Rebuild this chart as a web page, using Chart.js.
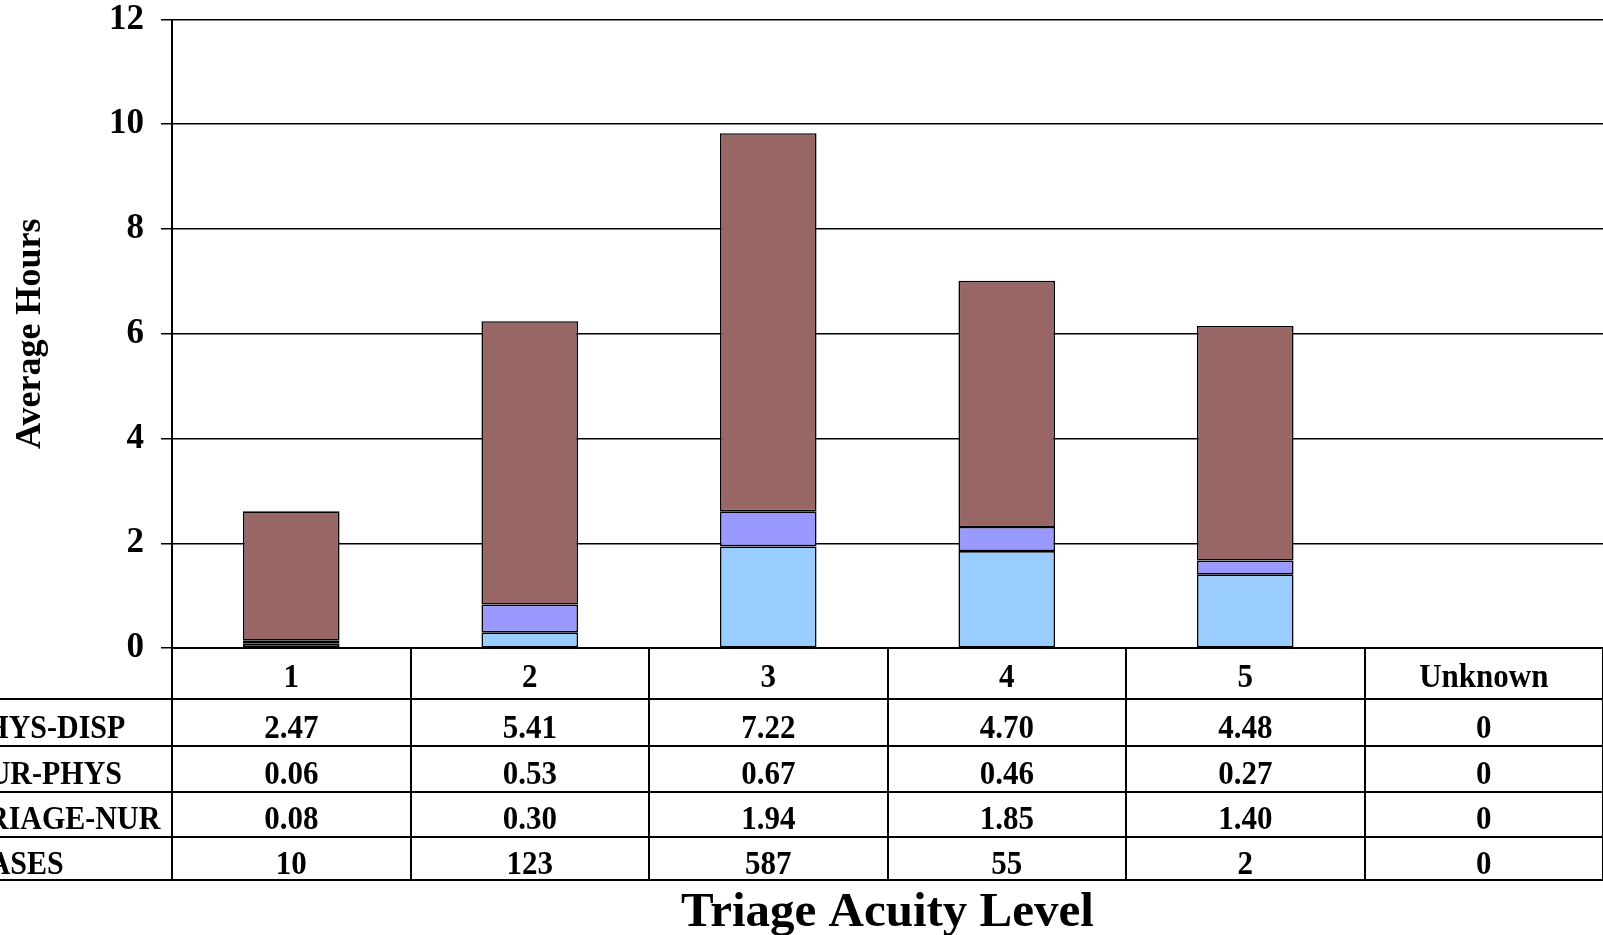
<!DOCTYPE html>
<html lang="en">
<head>
  <meta charset="UTF-8">
  <title>Triage Acuity Level</title>
  <script src="https://cdn.jsdelivr.net/npm/chart.js"></script>
  <style>
    body { margin: 0; background: #fff; overflow: hidden; }
    #acuityChart { display: block; }
  </style>
</head>
<body>
  <canvas id="acuityChart" width="1603" height="935"></canvas>
  <script>
    // data
    const categories = ['1', '2', '3', '4', '5', 'Unknown'];
    const physDisp = [2.47, 5.41, 7.22, 4.70, 4.48, 0];
    const nurPhys = [0.06, 0.53, 0.67, 0.46, 0.27, 0];
    const triageNur = [0.08, 0.30, 1.94, 1.85, 1.40, 0];
    const cases = [10, 123, 587, 55, 2, 0];
    const rowLabels = ['PHYS-DISP', 'NUR-PHYS', 'TRIAGE-NUR', 'CASES'];
    const yMax = 12;
    const yStep = 2;

    const serif = "'Liberation Serif', 'Times New Roman', serif";

    function fmt(v, dec) {
      return v === 0 ? '0' : v.toFixed(dec);
    }

    // draws the data table and the x title below the plot
    const tablePlugin = {
      id: 'dataTable',
      afterDraw(chart) {
        const ctx = chart.ctx;
        const x = chart.scales.x;
        const left = x.left;
        const colW = (x.right - x.left) / categories.length;
        const top = chart.chartArea.bottom;
        const rowLines = [top, 699, 746, 792, 837, 880];
        const baselines = [687, 738, 784, 829, 874];
        const rows = [
          physDisp.map(v => fmt(v, 2)),
          nurPhys.map(v => fmt(v, 2)),
          triageNur.map(v => fmt(v, 2)),
          cases.map(v => fmt(v, 0))
        ];

        ctx.save();
        ctx.strokeStyle = '#000';
        ctx.lineWidth = 2;
        // horizontal lines
        for (let i = 1; i < rowLines.length; i++) {
          ctx.beginPath();
          ctx.moveTo(0, rowLines[i]);
          ctx.lineTo(chart.width, rowLines[i]);
          ctx.stroke();
        }
        // vertical lines
        for (let c = 0; c <= categories.length; c++) {
          const px = Math.round(left + c * colW);
          ctx.beginPath();
          ctx.moveTo(px, top);
          ctx.lineTo(px, rowLines[rowLines.length - 1]);
          ctx.stroke();
        }

        ctx.fillStyle = '#000';

        function put(text, px, py, align) {
          ctx.save();
          ctx.textAlign = align;
          ctx.textBaseline = 'alphabetic';
          ctx.translate(px, py);
          ctx.scale(1, 1.12);
          ctx.fillText(text, 0, 0);
          ctx.restore();
        }

        ctx.font = 'bold 31px ' + serif;
        categories.forEach((cat, i) => {
          put(cat, x.getPixelForValue(i), baselines[0], 'center');
        });
        rows.forEach((row, r) => {
          row.forEach((txt, i) => {
            put(txt, x.getPixelForValue(i), baselines[r + 1], 'center');
          });
        });
        // row labels, cut off by the left edge like the original
        ctx.font = 'bold 30px ' + serif;
        rowLabels.forEach((lab, r) => {
          put(lab, -33, baselines[r + 1], 'left');
        });

        ctx.font = 'bold 49px ' + serif;
        ctx.textAlign = 'center';
        ctx.textBaseline = 'alphabetic';
        ctx.fillText('Triage Acuity Level', (x.left + x.right) / 2, 926);
        ctx.restore();
      }
    };

    const ctx = document.getElementById('acuityChart').getContext('2d');
    new Chart(ctx, {
      type: 'bar',
      data: {
        labels: categories,
        datasets: [
          {
            label: 'TRIAGE-NUR',
            data: triageNur,
            backgroundColor: '#99CCFF',
            borderColor: '#000',
            borderWidth: 1.6,
            borderSkipped: false
          },
          {
            label: 'NUR-PHYS',
            data: nurPhys,
            backgroundColor: '#9999FF',
            borderColor: '#000',
            borderWidth: 1.6,
            borderSkipped: false
          },
          {
            label: 'PHYS-DISP',
            data: physDisp,
            backgroundColor: '#996666',
            borderColor: '#000',
            borderWidth: 1.6,
            borderSkipped: false
          }
        ]
      },
      options: {
        responsive: false,
        animation: false,
        devicePixelRatio: 1,
        layout: { padding: 0 },
        datasets: {
          bar: { categoryPercentage: 1, barPercentage: 0.405 }
        },
        plugins: {
          legend: { display: false },
          tooltip: { enabled: false }
        },
        scales: {
          x: {
            stacked: true,
            ticks: { display: false },
            grid: { display: false },
            border: { display: true, color: '#000', width: 2 },
            afterFit(scale) { scale.height = 287; }
          },
          y: {
            stacked: true,
            min: 0,
            max: yMax,
            ticks: {
              stepSize: yStep,
              color: '#000',
              padding: 17,
              font: { family: serif, size: 35, weight: 'bold' }
            },
            grid: {
              color: '#000',
              lineWidth: 1.5,
              tickLength: 11,
              drawTicks: true
            },
            border: { display: true, color: '#000', width: 2 },
            title: {
              display: true,
              text: 'Average Hours',
              color: '#000',
              padding: { top: 9, bottom: 0 },
              font: { family: serif, size: 36, weight: 'bold' }
            },
            afterFit(scale) {
              scale.width = 172;
              scale.paddingTop = 19.5;
            }
          }
        }
      },
      plugins: [tablePlugin]
    });
  </script>
</body>
</html>
